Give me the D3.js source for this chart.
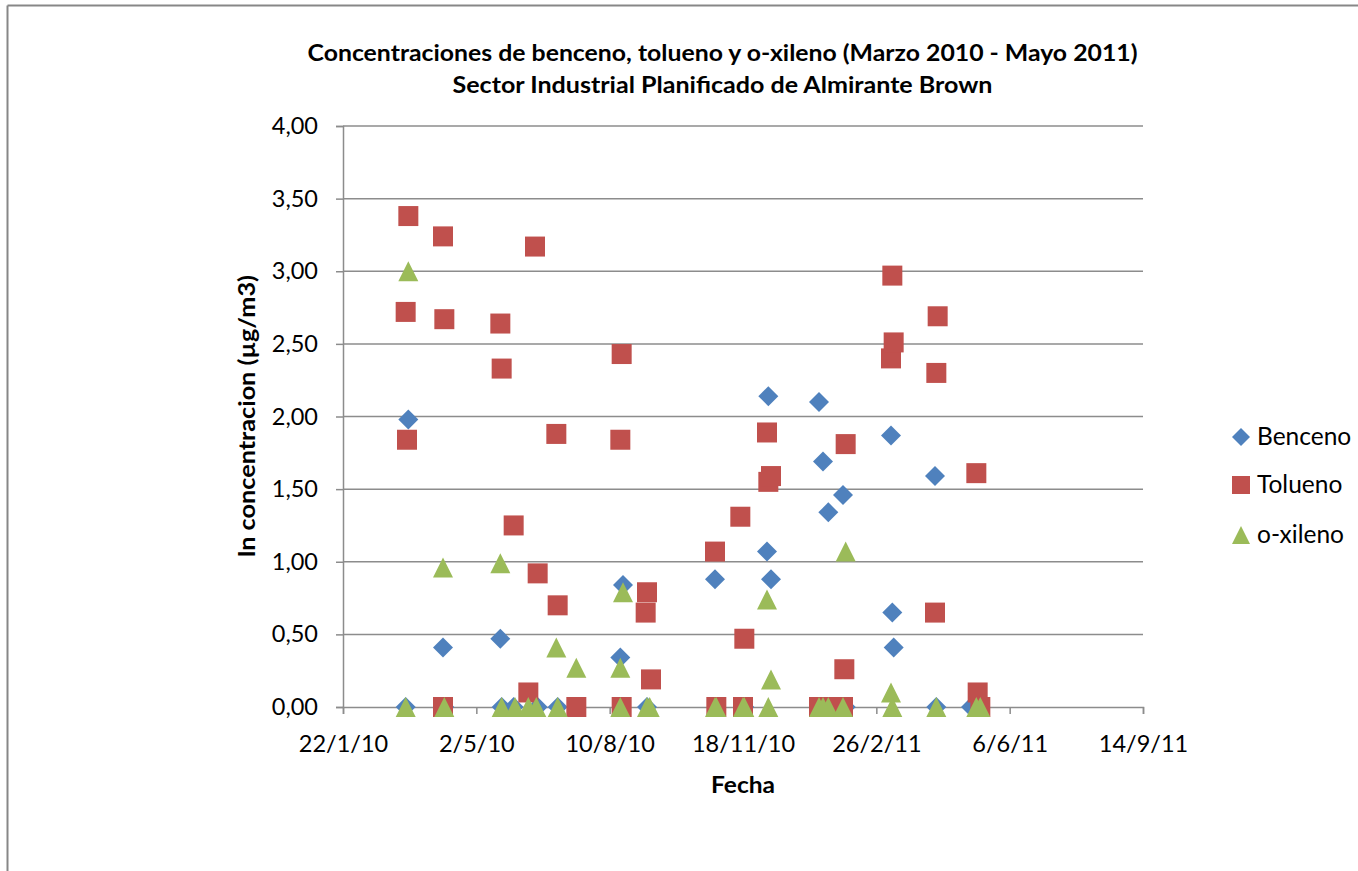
<!DOCTYPE html>
<html><head><meta charset="utf-8">
<script src="https://cdn.jsdelivr.net/npm/d3@7"></script>
<style>body{margin:0;background:#fff;} svg{display:block;}</style>
</head><body>
<script>
const titleLines = ["Concentraciones de benceno, tolueno y o-xileno (Marzo 2010 - Mayo 2011)", "Sector Industrial Planificado de Almirante Brown"];
const xTitle = "Fecha";
const yTitle = "ln concentracion (µg/m3)";
const seriesNames = ["Benceno", "Tolueno", "o-xileno"];
const seriesColors = ["#4F81BD", "#C0504D", "#9BBB59"];
const xTickDates = ["2010-01-22","2010-05-02","2010-08-10","2010-11-18","2011-02-26","2011-06-06","2011-09-14"];
const yTicks = [0,0.5,1,1.5,2,2.5,3,3.5,4];

const benceno = [
 ["2010-03-10",0],["2010-03-12",1.98],["2010-04-07",0.41],["2010-04-08",0],["2010-05-20",0.47],["2010-05-21",0],
 ["2010-05-30",0],["2010-06-17",0],["2010-07-02",0],["2010-08-18",0.34],["2010-08-20",0.84],["2010-09-07",0],
 ["2010-10-28",0.88],["2010-11-19",0],["2010-12-06",1.07],["2010-12-07",2.14],["2010-12-09",0.88],
 ["2011-01-14",2.10],["2011-01-17",1.69],["2011-01-21",1.34],["2011-02-01",1.46],["2011-02-03",0],
 ["2011-03-09",1.87],["2011-03-10",0.65],["2011-03-11",0.41],["2011-04-11",1.59],["2011-04-12",0],["2011-05-08",0]
];
const tolueno = [
 ["2010-03-10",2.72],["2010-03-11",1.84],["2010-03-12",3.38],["2010-04-07",3.24],["2010-04-08",2.67],["2010-04-07",0],
 ["2010-05-20",2.64],["2010-05-21",2.33],["2010-05-30",1.25],["2010-06-10",0.10],["2010-06-15",3.17],["2010-06-17",0.92],
 ["2010-07-01",1.88],["2010-07-02",0.70],["2010-07-16",0],["2010-08-18",1.84],["2010-08-19",2.43],["2010-08-19",0],
 ["2010-09-06",0.65],["2010-09-07",0.79],["2010-09-10",0.19],["2010-10-28",1.07],["2010-10-29",0],
 ["2010-11-16",1.31],["2010-11-18",0],["2010-11-19",0.47],["2010-12-06",1.89],["2010-12-07",1.55],["2010-12-09",1.59],
 ["2011-01-14",0],["2011-01-21",0],["2011-02-01",0],["2011-02-02",0.26],["2011-02-03",1.81],
 ["2011-03-09",2.40],["2011-03-10",2.97],["2011-03-11",2.51],["2011-04-11",0.65],["2011-04-12",2.30],["2011-04-13",2.69],
 ["2011-05-12",1.61],["2011-05-13",0.10],["2011-05-15",0]
];
const oxileno = [
 ["2010-03-10",0],["2010-03-12",3.00],["2010-04-07",0.96],["2010-04-08",0],["2010-05-20",0.99],["2010-05-21",0],
 ["2010-05-31",0],["2010-06-10",0],["2010-06-16",0],["2010-07-01",0.41],["2010-07-02",0],["2010-07-16",0.27],
 ["2010-08-18",0.27],["2010-08-18",0],["2010-08-20",0.79],["2010-09-07",0],["2010-09-09",0],["2010-10-28",0],["2010-10-29",0],
 ["2010-11-18",0],["2010-11-19",0],["2010-12-06",0.74],["2010-12-07",0],["2010-12-09",0.19],
 ["2011-01-14",0],["2011-01-17",0],["2011-01-21",0],["2011-02-01",0],["2011-02-03",1.07],
 ["2011-03-09",0.10],["2011-03-10",0],["2011-04-12",0],["2011-05-12",0],["2011-05-15",0]
];
const seriesData = [benceno, tolueno, oxileno];

const W = 1358, H = 871;
const parse = d3.timeParse("%Y-%m-%d");
const svg = d3.select("body").append("svg").attr("width", W).attr("height", H);

// outer chart frame (top and left edges visible)
svg.append("line").attr("x1",7.5).attr("x2",W).attr("y1",5.5).attr("y2",5.5).attr("stroke","#878787").attr("stroke-width",2);
svg.append("line").attr("x1",7.5).attr("x2",7.5).attr("y1",5.5).attr("y2",H).attr("stroke","#878787").attr("stroke-width",2);

const x = d3.scaleTime().domain([parse(xTickDates[0]), parse(xTickDates[xTickDates.length-1])]).range([343,1143]);
const y = d3.scaleLinear().domain([0,4]).range([707,126]);
const fmtY = v => d3.format(".2f")(v).replace(".", ",");
const fmtX = d3.timeFormat("%-d/%-m/%y");
const font = "Lato, 'Open Sans', sans-serif";

// gridlines
svg.append("g").selectAll("line").data(yTicks.filter(v=>v>0)).join("line")
  .attr("x1",343).attr("x2",1143).attr("y1",d=>y(d)).attr("y2",d=>y(d))
  .attr("stroke","#8c8c8c").attr("stroke-width",1.5);

// y axis
const gy = svg.append("g").attr("transform","translate(343,0)")
  .call(d3.axisLeft(y).tickValues(yTicks).tickFormat(fmtY).tickSize(7).tickPadding(18));
gy.select(".domain").attr("stroke","#8c8c8c").attr("stroke-width",1.5);
gy.selectAll(".tick line").attr("stroke","#8c8c8c").attr("stroke-width",1.5);
gy.selectAll("text").attr("font-family",font).attr("font-size",23.5).attr("fill","#000");

// x axis
const gx = svg.append("g").attr("transform","translate(0,707)")
  .call(d3.axisBottom(x).tickValues(xTickDates.map(parse)).tickFormat(fmtX).tickSize(7).tickPadding(21));
gx.select(".domain").attr("stroke","#8c8c8c").attr("stroke-width",1.5);
gx.selectAll(".tick line").attr("stroke","#8c8c8c").attr("stroke-width",1.5);
gx.selectAll("text").attr("font-family",font).attr("font-size",23.5).attr("fill","#000");

// markers
function markerPath(i){
  if(i===0) return "M0,-10L10,0L0,10L-10,0Z";
  if(i===1) return "M-10,-10H10V10H-10Z";
  return "M0,-10L10,10H-10Z";
}
seriesData.forEach((data,i)=>{
  svg.append("g").selectAll("path").data(data).join("path")
    .attr("d", markerPath(i))
    .attr("transform", d=>`translate(${x(parse(d[0]))},${y(d[1])})`)
    .attr("fill", seriesColors[i]);
});

// titles
svg.append("text").attr("x",722.5).attr("y",61).attr("text-anchor","middle")
  .attr("font-family",font).attr("font-weight","bold").attr("font-size",23)
  .attr("textLength",830).attr("lengthAdjust","spacingAndGlyphs").text(titleLines[0]);
svg.append("text").attr("x",722.5).attr("y",93).attr("text-anchor","middle")
  .attr("font-family",font).attr("font-weight","bold").attr("font-size",23)
  .attr("textLength",540).attr("lengthAdjust","spacingAndGlyphs").text(titleLines[1]);
svg.append("text").attr("x",743).attr("y",793).attr("text-anchor","middle")
  .attr("font-family",font).attr("font-weight","bold").attr("font-size",23)
  .attr("textLength",64).attr("lengthAdjust","spacingAndGlyphs").text(xTitle);
svg.append("text").attr("transform","translate(255,416) rotate(-90)").attr("text-anchor","middle")
  .attr("font-family",font).attr("font-weight","bold").attr("font-size",23)
  .attr("textLength",282).attr("lengthAdjust","spacingAndGlyphs").text(yTitle);

// legend
const legY = [437,485,535];
seriesNames.forEach((n,i)=>{
  svg.append("path").attr("d", i===2 ? "M0,-9L9,9H-9Z" : (i===1 ? "M-9,-9H9V9H-9Z" : "M0,-9L9,0L0,9L-9,0Z"))
    .attr("transform",`translate(1241,${legY[i]})`).attr("fill",seriesColors[i]);
  svg.append("text").attr("x",1257).attr("y",legY[i]+8).attr("font-family",font).attr("font-size",24.5)
    .attr("fill","#000").text(n);
});
</script>
</body></html>
